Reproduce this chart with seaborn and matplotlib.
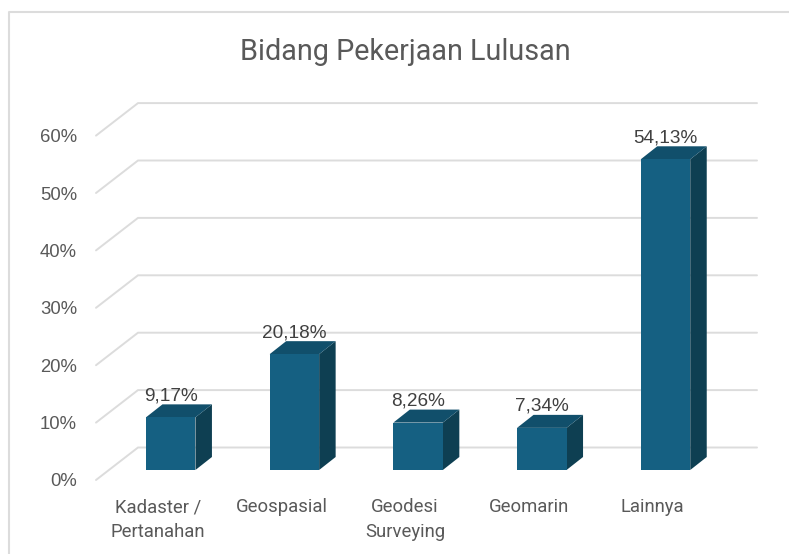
import matplotlib
matplotlib.use('Agg')
import matplotlib.pyplot as plt
import seaborn as sns
from matplotlib.lines import Line2D
from matplotlib.patches import Polygon
from matplotlib.transforms import ScaledTranslation

# Data
categories = ['Kadaster /\nPertanahan', 'Geospasial', 'Geodesi\nSurveying', 'Geomarin', 'Lainnya']
values = [9.17, 20.18, 8.26, 7.34, 54.13]
value_labels = ['9,17%', '20,18%', '8,26%', '7,34%', '54,13%']
y_ticks = [0, 10, 20, 30, 40, 50, 60]

W, H = 789, 554
FRONT = '#156082'
SIDE = '#0E3F52'
TOP = '#114F6B'
GRID = '#DCDCDC'
TEXT = '#595959'

sns.set_theme(style='white')
plt.rcParams['font.family'] = ['Roboto', 'DejaVu Sans']

fig = plt.figure(figsize=(W / 100, H / 100), dpi=100)

# axes span the plane of the bars' front faces
left, right, y_zero, y_top = 96, 757, 470, 125.6
ax = fig.add_axes([left / W, 1 - y_zero / H, (right - left) / W, (y_zero - y_top) / H])

sns.barplot(x=categories, y=values, color=FRONT, saturation=1, width=0.4,
            edgecolor='none', ax=ax, zorder=3)

px_x = 123.7  # pixels per category
px_y = (y_zero - y_top) / 60  # pixels per percent
ax.set_xlim((left - 170.7) / px_x, (right - 170.7) / px_x)
ax.set_ylim(0, 60)
ax.set_xlabel('')
ax.set_ylabel('')
sns.despine(ax=ax, left=True, bottom=True)

# Floor/back wall gridlines
x0 = ax.get_xlim()[0]
x_back = x0 + 42 / px_x
x_end = ax.get_xlim()[1]
for v in y_ticks:
    low = v - 10 / px_y
    high = v + 22.5 / px_y
    ax.plot([x0, x_back, x_end], [low, high, high], color=GRID, lw=1.4,
            clip_on=False, zorder=1, solid_joinstyle='miter')

# Fake 3D sides on the bars
ox = 16.5 / px_x
oy = 13 / px_y
for bar in ax.patches:
    x1 = bar.get_x()
    x2 = x1 + bar.get_width()
    h = bar.get_height()
    ax.add_patch(Polygon([(x2, 0), (x2 + ox, oy), (x2 + ox, h + oy), (x2, h)],
                         facecolor=SIDE, edgecolor='none', zorder=2.9, clip_on=False))
    ax.add_patch(Polygon([(x1, h), (x1 + ox, h + oy), (x2 + ox, h + oy), (x2, h)],
                         facecolor=TOP, edgecolor='none', zorder=2.9, clip_on=False))

for i, (v, label) in enumerate(zip(values, value_labels)):
    ax.annotate(label, (i, v), xytext=(0, 15.6), textcoords='offset points',
                ha='center', va='center', fontsize=13.7, color='#404040',
                family='Liberation Sans', zorder=5)

# Ticks
ax.set_yticks(y_ticks)
ax.set_yticklabels([f'{v}%' for v in y_ticks], family='Liberation Sans', fontsize=13.3, color=TEXT)
ax.tick_params(axis='y', length=0, pad=13.7)
ax.tick_params(axis='x', length=0, pad=19)
ax.set_xticks(range(len(categories)))
ax.set_xticklabels(categories, fontsize=13.3, color=TEXT, linespacing=1.5)
y_shift = ScaledTranslation(0, -10 / 100, fig.dpi_scale_trans)
x_shift = ScaledTranslation(-13 / 100, -2 / 100, fig.dpi_scale_trans)
for t in ax.get_yticklabels():
    t.set_transform(t.get_transform() + y_shift)
for t in ax.get_xticklabels():
    t.set_transform(t.get_transform() + x_shift)

fig.text(405 / W, 1 - 51.5 / H, 'Bidang Pekerjaan Lulusan', ha='center', va='center',
         fontsize=20.7, color=TEXT)

# Chart frame
fig.add_artist(Line2D([9 / W, 9 / W, 1], [0, 1 - 12 / H, 1 - 12 / H], color=GRID, lw=1.5))

fig.savefig('out.png', dpi=100)
